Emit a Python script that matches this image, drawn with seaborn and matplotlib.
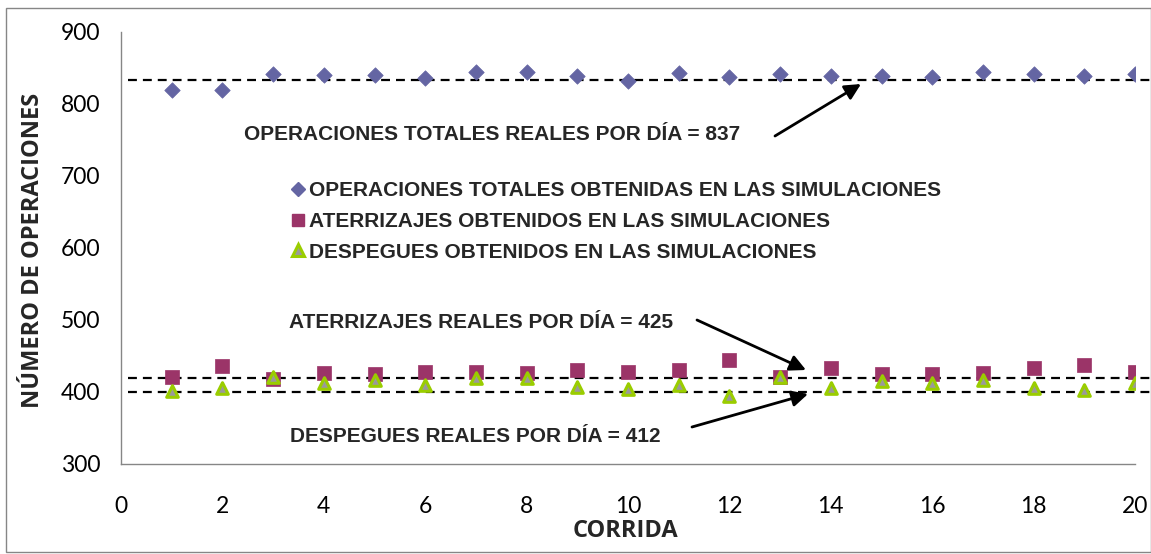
import numpy as np
import pandas as pd
import matplotlib
matplotlib.use('Agg')
import matplotlib.pyplot as plt
import seaborn as sns
from matplotlib.lines import Line2D
from matplotlib.patches import Rectangle

# ── Data ────────────────────────────────────────
corrida = list(range(1, 21))
operaciones = [820, 820, 841, 840, 840, 836, 845, 844, 839, 832,
               843, 837, 842, 839, 839, 838, 844, 841, 839, 841]
aterrizajes = [421, 436, 418, 427, 425, 428, 428, 427, 431, 428,
               431, 444, 421, 433, 425, 425, 427, 434, 437, 428]
despegues = [401, 405, 421, 413, 416, 410, 419, 419, 407, 404,
             410, 394, 421, 405, 415, 413, 417, 405, 403, 413]

# reference (dashed) lines as drawn, and the values in the captions
lineas_ref = [833, 420, 400]
real_total = 837
real_aterrizajes = 425
real_despegues = 412

labels_series = ['OPERACIONES TOTALES OBTENIDAS EN LAS SIMULACIONES',
                 'ATERRIZAJES OBTENIDOS EN LAS SIMULACIONES',
                 'DESPEGUES OBTENIDOS EN LAS SIMULACIONES']

df = pd.DataFrame({'corrida': corrida, 'operaciones': operaciones,
                   'aterrizajes': aterrizajes, 'despegues': despegues})

# ── Style ───────────────────────────────────────
sns.set_theme(style='white')
plt.rcParams['font.family'] = ['Lato', 'DejaVu Sans']

c_diamond = '#6465A3'
c_square = '#9B3468'
c_tri_edge = '#9ACD00'
c_tri_fill = '#9A9A9A'
c_axis = '#868686'

fig = plt.figure(figsize=(11.51, 5.54), dpi=100)
ax = fig.add_axes([121 / 1151, 1 - 464 / 554, (1135 - 121) / 1151, (464 - 32) / 554])

sns.scatterplot(data=df, x='corrida', y='operaciones', marker='D', s=62,
                color=c_diamond, edgecolor=c_diamond, linewidth=0.5, ax=ax, zorder=3)
sns.scatterplot(data=df, x='corrida', y='aterrizajes', marker='s', s=95,
                color=c_square, edgecolor=c_square, linewidth=0.5, ax=ax, zorder=3)
sns.scatterplot(data=df, x='corrida', y='despegues', marker='^', s=70,
                color=c_tri_fill, edgecolor=c_tri_edge, linewidth=2.2, ax=ax, zorder=4)

for y in lineas_ref:
    ax.axhline(y, xmin=0.007, xmax=1.015, color='black', lw=1.6,
               dashes=(4, 2.7), clip_on=False, zorder=2)

ax.set_xlim(0, 20)
ax.set_ylim(300, 900)
ax.set_xticks(range(0, 21, 2))
ax.set_yticks(range(300, 901, 100))
ax.tick_params(axis='both', length=0, labelsize=16.5, colors='black')
ax.tick_params(axis='x', pad=23)
ax.tick_params(axis='y', pad=15)
ax.set_xlabel('')
ax.set_ylabel('')
sns.despine(ax=ax)
for side in ['left', 'bottom']:
    ax.spines[side].set_color(c_axis)
    ax.spines[side].set_linewidth(1)

lab = dict(fontsize=17, fontweight='bold', family=['Open Sans', 'DejaVu Sans'],
           ha='center', va='center')
fig.text(33 / 1151, 1 - 250 / 554, 'NÚMERO DE OPERACIONES', rotation=90, **lab)
fig.text(625 / 1151, 1 - 531 / 554, 'CORRIDA', **lab)

# ── Captions and arrows ─────────────────────────
cap = dict(fontsize=15, fontweight='bold', family=['Liberation Sans', 'DejaVu Sans'],
           va='center', ha='left')
fig.text(244 / 1151, 1 - 135 / 554,
         f'OPERACIONES TOTALES REALES POR DÍA = {real_total}', **cap)
fig.text(289 / 1151, 1 - 322 / 554,
         f'ATERRIZAJES REALES POR DÍA = {real_aterrizajes}', **cap)
fig.text(290 / 1151, 1 - 437 / 554,
         f'DESPEGUES REALES POR DÍA = {real_despegues}', **cap)

arrows = [((775, 136), (861, 84)), ((697, 320), (806, 370)), ((692, 427), (808, 394))]
for (x0, y0), (x1, y1) in arrows:
    ax.annotate('', xy=(x1 / 1151, 1 - y1 / 554), xytext=(x0 / 1151, 1 - y0 / 554),
                xycoords='figure fraction', textcoords='figure fraction',
                arrowprops=dict(arrowstyle='-|>', color='black', lw=2,
                                mutation_scale=24, shrinkA=0, shrinkB=0))

# ── Legend ──────────────────────────────────────
handles = [
    Line2D([], [], marker='D', ls='', color=c_diamond, markersize=7),
    Line2D([], [], marker='s', ls='', color=c_square, markersize=9),
    Line2D([], [], marker='^', ls='', markerfacecolor=c_tri_fill,
           markeredgecolor=c_tri_edge, markeredgewidth=2.2, markersize=9),
]
leg = ax.legend(handles, labels_series, loc='upper left', frameon=False,
                bbox_to_anchor=(279 / 1151, 1 - 171 / 554), bbox_transform=fig.transFigure,
                borderpad=0, handlelength=0.8, handletextpad=0.15, labelspacing=0.56,
                prop={'family': ['Liberation Sans', 'DejaVu Sans'], 'weight': 'bold',
                      'size': 15})

# outer border
fig.patches.append(Rectangle((6 / 1151, 2 / 554), 1 - 6 / 1151, 1 - 10 / 554,
                             transform=fig.transFigure, fill=False,
                             edgecolor=c_axis, lw=1))

fig.savefig('out.png', dpi=100)
